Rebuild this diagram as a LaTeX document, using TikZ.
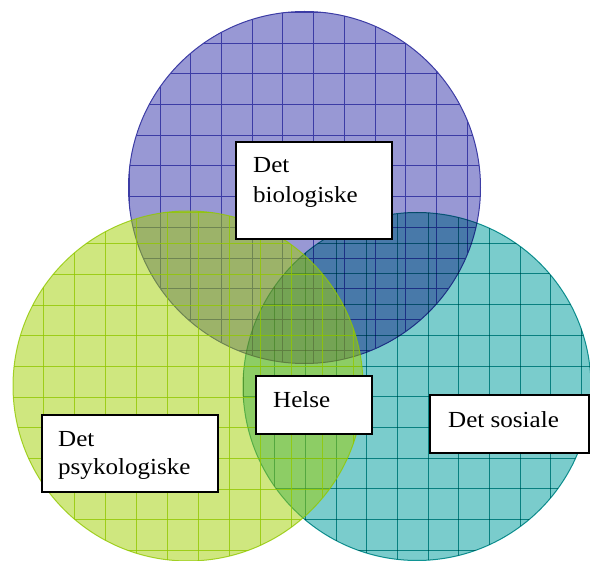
\documentclass[tikz,border=0pt]{standalone}
\usepackage{fontspec}
\setmainfont[FakeStretch=1.09]{Liberation Serif}
\definecolor{bfill}{RGB}{152,152,212}
\definecolor{bline}{RGB}{60,60,165}
\definecolor{gfill}{RGB}{160,207,0}
\definecolor{gline}{RGB}{145,200,0}
\definecolor{tfill}{RGB}{122,204,204}
\definecolor{tline}{RGB}{20,160,160}
\begin{document}
\begin{tikzpicture}[x=1pt,y=-1pt,
  box/.style={draw=black,line width=2pt,fill=white,inner sep=0pt},
  lbl/.style={anchor=base west,inner sep=0pt,font=\fontsize{23}{30}\selectfont}]
\useasboundingbox (0,0) rectangle (590,561);
% blue circle
\begin{scope}
  \fill[bfill] (304.5,187.5) circle (176);
  \begin{scope}
    \clip (304.5,187.5) circle (176);
    \foreach \k in {0,...,19} {
      \draw[bline,line width=0.65pt] ({6.5+30.7*\k},0) -- ({6.5+30.7*\k},561);
      \draw[bline,line width=0.65pt] (0,{12.3+30.7*\k}) -- (590,{12.3+30.7*\k});
    }
  \end{scope}
  \draw[bline,line width=1pt] (304.5,187.5) circle (176);
\end{scope}
% teal circle
\begin{scope}[blend mode=multiply]
  \fill[tfill] (417,386.5) circle (174);
  \begin{scope}
    \clip (417,386.5) circle (174);
    \foreach \k in {0,...,19} {
      \draw[tline,line width=0.65pt] ({28.9+30.7*\k},0) -- ({28.9+30.7*\k},561);
      \draw[tline,line width=0.65pt] (0,{28.2+30.7*\k}) -- (590,{28.2+30.7*\k});
    }
  \end{scope}
  \draw[tline,line width=1pt] (417,386.5) circle (174);
\end{scope}
% green circle
\fill[gfill,fill opacity=0.5] (188,386) circle (175);
\begin{scope}[opacity=0.8]
  \begin{scope}
    \clip (188,386) circle (175);
    \foreach \k in {0,...,19} {
      \draw[gline,line width=0.7pt] ({12+31*\k},0) -- ({12+31*\k},561);
      \draw[gline,line width=0.7pt] (0,{28.6+30.7*\k}) -- (590,{28.6+30.7*\k});
    }
  \end{scope}
  \draw[gline,line width=1pt] (188,386) circle (175);
\end{scope}
% boxes
\node[box,minimum width=156pt,minimum height=97pt] (bio) at (314,190.5) {};
\node[lbl] (bio1) at (253,173) {Det};
\node[lbl] (bio2) at (253,203) {biologiske};
\node[box,minimum width=116pt,minimum height=58pt] (hel) at (314,405) {};
\node[lbl] (hel1) at (273,408) {Helse};
\node[box,minimum width=159pt,minimum height=58pt] (sos) at (509.5,424) {};
\node[lbl] (sos1) at (448,428) {Det sosiale};
\node[box,minimum width=176pt,minimum height=77pt] (psy) at (130,453.5) {};
\node[lbl] (psy1) at (58,447) {Det};
\node[lbl] (psy2) at (58,475) {psykologiske};
\end{tikzpicture}
\end{document}
